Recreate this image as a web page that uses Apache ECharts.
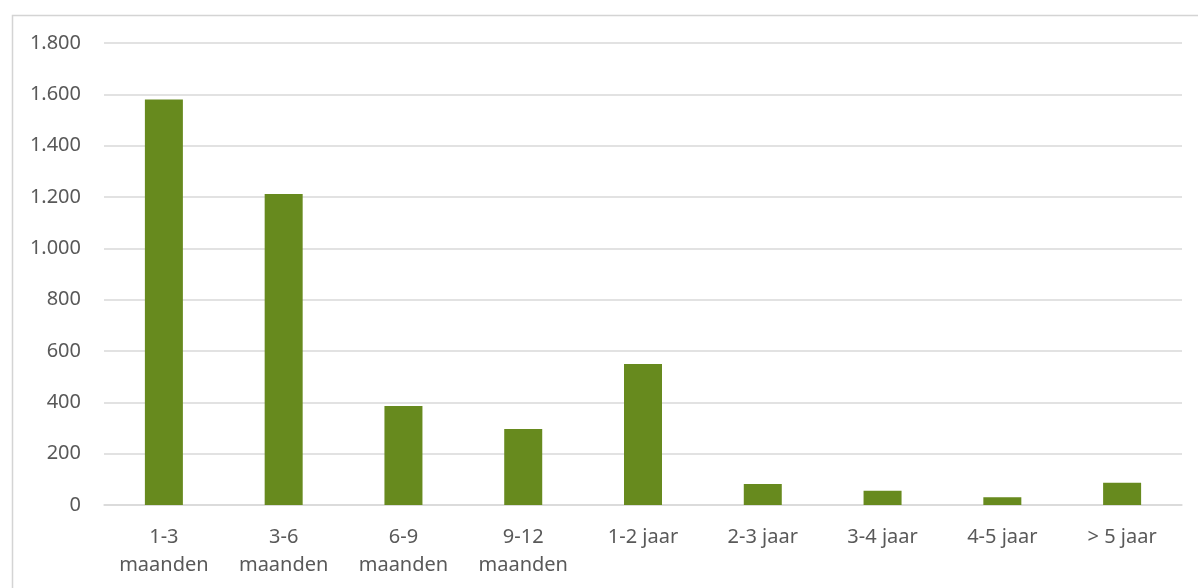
<!DOCTYPE html>
<html>
<head>
<meta charset="utf-8">
<script src="https://cdn.jsdelivr.net/npm/echarts@6/dist/echarts.min.js"></script>
<style>
  html, body { margin: 0; padding: 0; background: #ffffff; }
  #chart { width: 1198px; height: 588px; }
</style>
</head>
<body>
<div id="chart"></div>
<script>
// Duration categories (two-line labels where the text wraps)
const categories = [
  '1-3\nmaanden', '3-6\nmaanden', '6-9\nmaanden', '9-12\nmaanden',
  '1-2 jaar', '2-3 jaar', '3-4 jaar', '4-5 jaar', '> 5 jaar'
];

// Count per duration
const counts = [1580, 1212, 386, 296, 549, 82, 56, 30, 87];

// Value axis range
const yMin = 0;
const yMax = 1800;
const yStep = 200;

const textColor = '#595959';
const gridColor = '#d9d9d9';
const barColor = '#678a1e';
const fontFamily = '"Noto Sans", "Open Sans", sans-serif';

// Dutch thousands separator: 1800 -> "1.800"
function formatNl(v) {
  return String(v).replace(/\B(?=(\d{3})+(?!\d))/g, '.');
}

const chart = echarts.init(document.getElementById('chart'), null, { renderer: 'canvas' });

chart.setOption({
  backgroundColor: '#ffffff',
  animation: false,
  graphic: [{
    type: 'rect',
    left: 10,
    top: 13,
    shape: { width: 1190, height: 600 },
    style: { fill: 'none', stroke: '#d4d4d4', lineWidth: 1.5 },
    silent: true,
    z: -1
  }],
  grid: {
    left: 104,
    right: 16,
    top: 43,
    bottom: 83,
    containLabel: false
  },
  xAxis: {
    type: 'category',
    data: categories,
    axisLine: { show: true, lineStyle: { color: gridColor, width: 1.5 } },
    axisTick: { show: false },
    axisLabel: {
      color: textColor,
      fontFamily: fontFamily,
      fontSize: 20,
      lineHeight: 28,
      margin: 18,
      interval: 0
    }
  },
  yAxis: {
    type: 'value',
    min: yMin,
    max: yMax,
    interval: yStep,
    axisLine: { show: false },
    axisTick: { show: false },
    splitLine: { lineStyle: { color: gridColor, width: 1.5 } },
    axisLabel: {
      color: textColor,
      fontFamily: fontFamily,
      fontSize: 20,
      margin: 23,
      formatter: formatNl
    }
  },
  series: [{
    type: 'bar',
    data: counts,
    barWidth: 38,
    itemStyle: { color: barColor }
  }]
});
</script>
</body>
</html>
